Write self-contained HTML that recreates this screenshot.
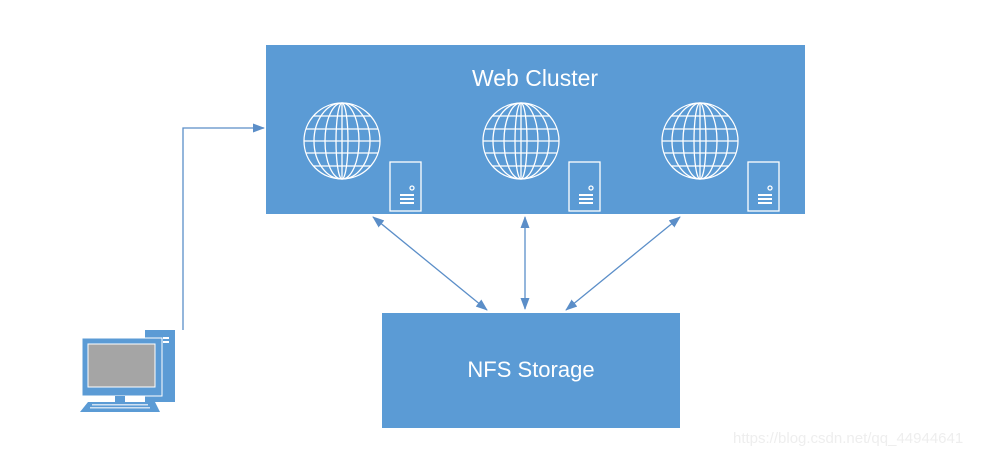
<!DOCTYPE html>
<html><head><meta charset="utf-8"><style>
html,body{margin:0;padding:0;background:#fff;}
svg{display:block;}
text{font-family:"Liberation Sans",sans-serif;}
</style></head><body>
<svg width="982" height="455" viewBox="0 0 982 455" xmlns="http://www.w3.org/2000/svg">
<defs>
<marker id="a" markerWidth="12" markerHeight="10" refX="11" refY="4.5" orient="auto-start-reverse" markerUnits="userSpaceOnUse">
<path d="M0,0 L12,4.5 L0,9 z" fill="#5b8ec8"/>
</marker>
<g id="globe" fill="none" stroke="#fff" stroke-width="1.3">
<circle r="38"/>
<ellipse rx="28" ry="38"/>
<ellipse rx="17" ry="38"/>
<ellipse rx="6" ry="38"/>
<line x1="0" y1="-38" x2="0" y2="38"/>
<line x1="-36" y1="-12" x2="36" y2="-12"/>
<line x1="-38" y1="0" x2="38" y2="0"/>
<line x1="-36" y1="12" x2="36" y2="12"/>
<line x1="-29" y1="-25" x2="29" y2="-25"/>
<line x1="-29" y1="25" x2="29" y2="25"/>
</g>
<g id="srv" fill="none" stroke="#fff" stroke-width="1.3">
<rect x="0" y="0" width="31" height="49"/>
<circle cx="22" cy="26" r="2"/>
<line x1="10" y1="33" x2="24" y2="33" stroke-width="2"/>
<line x1="10" y1="37" x2="24" y2="37" stroke-width="2"/>
<line x1="10" y1="41" x2="24" y2="41" stroke-width="2"/>
</g>
</defs>
<rect x="266" y="45" width="539" height="169" fill="#5b9bd5"/>
<text x="535" y="86" font-size="23" fill="#fff" text-anchor="middle">Web Cluster</text>
<use href="#globe" x="342" y="141"/>
<use href="#globe" x="521" y="141"/>
<use href="#globe" x="700" y="141"/>
<use href="#srv" x="390" y="162"/>
<use href="#srv" x="569" y="162"/>
<use href="#srv" x="748" y="162"/>
<rect x="382" y="313" width="298" height="115" fill="#5b9bd5"/>
<text x="531" y="377" font-size="22" fill="#fff" text-anchor="middle">NFS Storage</text>
<g stroke="#5b8ec8" stroke-width="1.3" fill="none">
<polyline points="183,330 183,128 264,128" marker-end="url(#a)"/>
<line x1="373" y1="217" x2="487" y2="310" marker-start="url(#a)" marker-end="url(#a)"/>
<line x1="525" y1="217" x2="525" y2="309" marker-start="url(#a)" marker-end="url(#a)"/>
<line x1="680" y1="217" x2="566" y2="310" marker-start="url(#a)" marker-end="url(#a)"/>
</g>
<rect x="145" y="330" width="30" height="72" fill="#5b9bd5"/>
<rect x="163" y="337" width="6" height="2" fill="#fff"/>
<rect x="163" y="341" width="6" height="2" fill="#fff"/>
<rect x="82" y="338" width="80" height="58" fill="#5b9bd5" stroke="#fff" stroke-width="1"/>
<rect x="88" y="344" width="67" height="43" fill="#a5a5a5" stroke="#fff" stroke-width="1"/>
<rect x="115" y="396" width="10" height="6" fill="#5b9bd5"/>
<path d="M88,402 L155,402 L160,412 L80,412 z" fill="#5b9bd5"/>
<g fill="#cfe0f2">
<rect x="92" y="404" width="56" height="1.5"/>
<rect x="90" y="407" width="60" height="1.5"/>
</g>
<text x="733" y="443" font-size="15" fill="#eeeeee">https://blog.csdn.net/qq_44944641</text>
</svg>
</body></html>
